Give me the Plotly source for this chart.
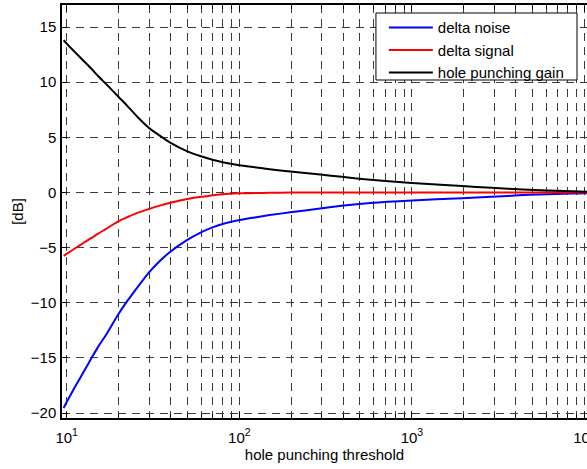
import plotly.graph_objects as go

# threshold values (x)
threshold = [9.6, 10, 11.2, 12.5, 14, 15.2, 17, 20, 22.3, 25.9, 30, 35, 40, 50, 60, 70, 80,
             100, 123, 150, 197, 294, 392, 574, 1000, 1950, 2900, 4400, 8500, 11000]

delta_noise = [-19.54, -19.0, -17.6, -16.3, -14.95, -14.0, -12.85, -11.0, -9.9, -8.53, -7.25,
               -6.15, -5.35, -4.3, -3.62, -3.17, -2.86, -2.5, -2.26, -2.05, -1.8, -1.45, -1.2,
               -0.95, -0.72, -0.53, -0.39, -0.24, -0.09, -0.06]

delta_signal = [-5.75, -5.57, -5.06, -4.58, -4.1, -3.73, -3.28, -2.59, -2.26, -1.83, -1.5,
                -1.17, -0.93, -0.6, -0.39, -0.26, -0.15, -0.08, -0.05, -0.03, -0.01, 0, 0, 0,
                0, 0, 0, 0, 0, 0]

hole_gain = [13.8, 13.5, 12.7, 11.95, 11.17, 10.56, 9.8, 8.66, 7.9, 6.8, 5.85, 5.1, 4.5, 3.73,
             3.28, 2.97, 2.75, 2.47, 2.28, 2.1, 1.9, 1.62, 1.42, 1.15, 0.85, 0.58, 0.42, 0.27,
             0.1, 0.07]

x_major = [10, 100, 1000, 10000]
x_major_text = ["10<sup>1</sup>", "10<sup>2</sup>", "10<sup>3</sup>", "10<sup>4</sup>"]
x_minor = [m * d for d in (10, 100, 1000) for m in range(2, 10)]
y_ticks = [-20, -15, -10, -5, 0, 5, 10, 15]

FONT = "Liberation Sans, Arial, sans-serif"
GRID = "#3c3c3c"
DASH = "8px,6px"

fig = go.Figure()
for yv, nm, col in [(delta_noise, "delta noise", "#0000ff"),
                    (delta_signal, "delta signal", "#ff0000"),
                    (hole_gain, "hole punching gain", "#000000")]:
    fig.add_trace(go.Scatter(x=threshold, y=yv, mode="lines", name=nm,
                             line=dict(color=col, width=2, shape="spline", smoothing=0.7)))

# legend frame (decoration), drawn in paper coordinates
fig.add_shape(type="rect", xref="paper", yref="paper",
              x0=0.598, x1=0.981, y0=0.8184, y1=0.9806,
              fillcolor="white", line=dict(color="black", width=1), layer="above")

fig.update_layout(
    width=587, height=469,
    margin=dict(l=62, r=0, t=5, b=51),
    paper_bgcolor="white", plot_bgcolor="white",
    font=dict(family=FONT, size=15, color="black"),
    showlegend=True,
    legend=dict(x=0.613, y=0.985, xanchor="left", yanchor="top",
                bgcolor="rgba(0,0,0,0)", borderwidth=0,
                font=dict(family=FONT, size=15, color="black"),
                itemwidth=44),
    xaxis=dict(
        type="log", range=[0.9728, 4.0145], automargin=False,
        tickvals=x_major, ticktext=x_major_text,
        ticks="inside", ticklen=6, tickcolor="black",
        ticklabeloverflow="allow", ticklabelstandoff=5,
        tickfont=dict(size=15),
        showline=True, linecolor="black", linewidth=1.5, mirror="ticks",
        showgrid=True, gridcolor=GRID, griddash=DASH, gridwidth=1,
        minor=dict(tickvals=x_minor, ticks="inside", ticklen=4, tickcolor="black",
                   showgrid=True, gridcolor=GRID, griddash=DASH, gridwidth=1),
        zeroline=False,
        title=dict(text="hole punching threshold", font=dict(size=15), standoff=4),
    ),
    yaxis=dict(
        range=[-20.45, 17], automargin=False,
        tickvals=y_ticks,
        ticks="inside", ticklen=5, tickcolor="black",
        tickfont=dict(size=15), ticklabelstandoff=1,
        showline=True, linecolor="black", linewidth=1.5, mirror=False,
        showgrid=True, gridcolor=GRID, griddash=DASH, gridwidth=1,
        zeroline=False,
        title=dict(text="[dB]", font=dict(size=15), standoff=4),
    ),
)

fig.write_html("out.html")
